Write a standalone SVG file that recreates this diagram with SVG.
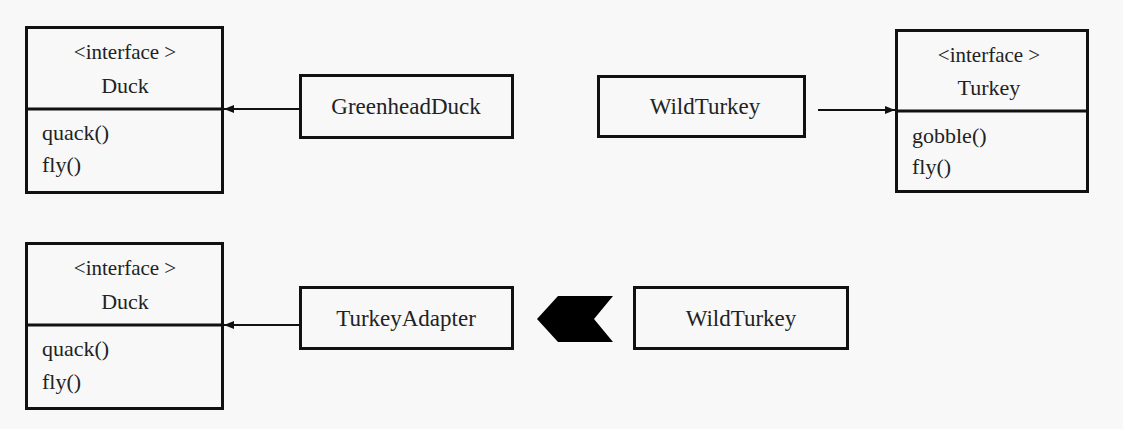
<svg xmlns="http://www.w3.org/2000/svg" width="1123" height="429" viewBox="0 0 1123 429">
<defs>
<marker id="arr" markerWidth="10" markerHeight="8" refX="10" refY="4" orient="auto" markerUnits="userSpaceOnUse">
<path d="M0,0 L10,4 L0,8 Z" fill="#111"/>
</marker>
</defs>
<style>
.box{fill:none;stroke:#111;stroke-width:3}
.div{stroke:#111;stroke-width:3}
.t{font-family:"Liberation Serif","Times New Roman",serif;fill:#222}
.st{font-size:21px}
.nm{font-size:23px}
.dn{font-size:22px}
.mb{font-size:22px}
.c{text-anchor:middle}
.conn{stroke:#111;stroke-width:2;fill:none}
</style>
<rect width="1123" height="429" fill="#f8f8f8"/>

<g id="duck-top">
<rect class="box" x="26.5" y="27.5" width="196" height="165"/>
<line class="div" x1="26.5" y1="109" x2="222.5" y2="109"/>
<text class="t st c" x="125" y="59">&lt;interface &gt;</text>
<text class="t dn c" x="125" y="93">Duck</text>
<text class="t mb" x="42" y="140">quack()</text>
<text class="t mb" x="42" y="172">fly()</text>
</g>

<g id="greenhead-duck">
<rect class="box" x="300.5" y="75.5" width="212" height="62"/>
<text class="t nm c" x="406" y="114">GreenheadDuck</text>
</g>

<g id="wildturkey-top">
<rect class="box" x="598.5" y="76.5" width="206" height="60"/>
<text class="t nm c" x="705" y="114">WildTurkey</text>
</g>

<g id="turkey">
<rect class="box" x="896.5" y="30.5" width="191" height="161"/>
<line class="div" x1="896.5" y1="111" x2="1087.5" y2="111"/>
<text class="t st c" x="989" y="62">&lt;interface &gt;</text>
<text class="t dn c" x="989" y="95">Turkey</text>
<text class="t mb" x="912" y="143">gobble()</text>
<text class="t mb" x="912" y="174">fly()</text>
</g>

<g id="duck-bottom">
<rect class="box" x="26.5" y="243.5" width="196" height="165"/>
<line class="div" x1="26.5" y1="325" x2="222.5" y2="325"/>
<text class="t st c" x="125" y="275">&lt;interface &gt;</text>
<text class="t dn c" x="125" y="309">Duck</text>
<text class="t mb" x="42" y="356">quack()</text>
<text class="t mb" x="42" y="389">fly()</text>
</g>

<g id="turkey-adapter">
<rect class="box" x="300.5" y="287.5" width="212" height="61"/>
<text class="t nm c" x="406" y="326">TurkeyAdapter</text>
</g>

<g id="wildturkey-bottom">
<rect class="box" x="634.5" y="287.5" width="213" height="61"/>
<text class="t nm c" x="741" y="326">WildTurkey</text>
</g>

<g id="connectors">
<line class="conn" x1="300" y1="109" x2="224" y2="109" marker-end="url(#arr)"/>
<line class="conn" x1="818" y1="110" x2="895" y2="110" marker-end="url(#arr)"/>
<line class="conn" x1="300" y1="325" x2="224" y2="325" marker-end="url(#arr)"/>
<path d="M537,319 L558,296 L613,296 L594,319 L613,342 L558,342 Z" fill="#000"/>
</g>
</svg>
